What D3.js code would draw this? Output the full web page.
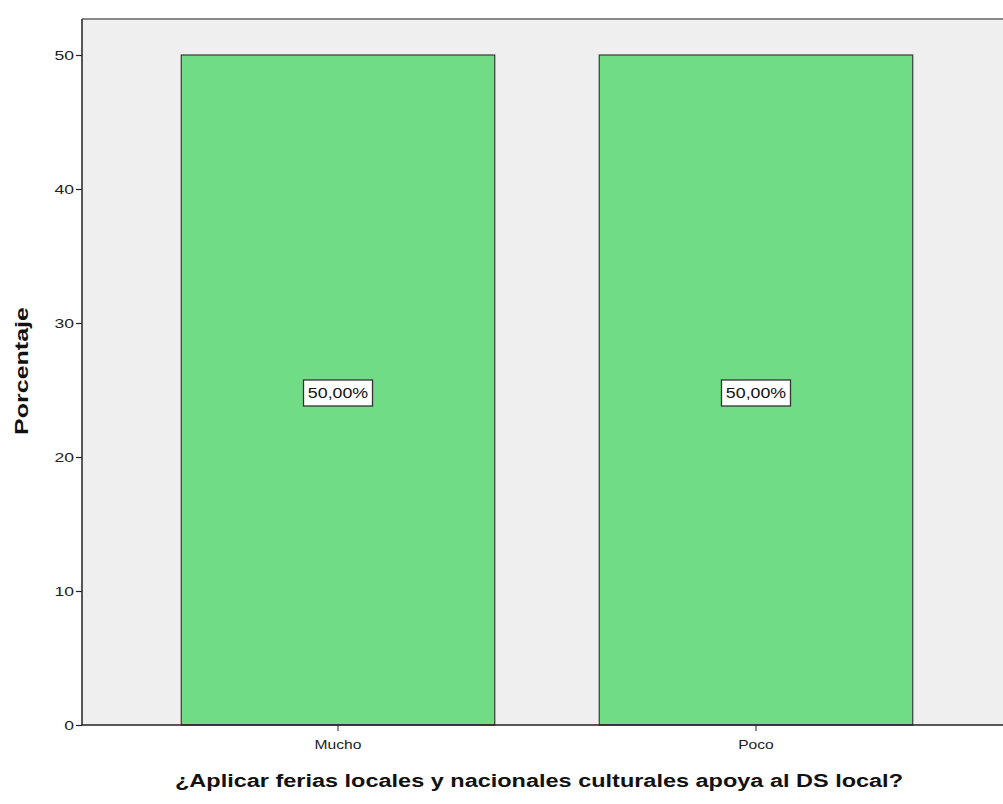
<!DOCTYPE html>
<html><head><meta charset="utf-8">
<script src="https://cdn.jsdelivr.net/npm/d3@7"></script>
<style>body{margin:0;background:#fff;}svg{display:block;}</style>
</head><body>
<svg id="c" width="1003" height="804"></svg>
<script>
const categories = ["Mucho", "Poco"];
const values = [50, 50];
const valueLabels = ["50,00%", "50,00%"];
const yTicks = [0, 10, 20, 30, 40, 50];
const yTitle = "Porcentaje";
const xTitle = "¿Aplicar ferias locales y nacionales culturales apoya al DS local?";

const FONT = "Arial, 'Liberation Sans', sans-serif";
function widen(sel, f) {
  sel.each(function () {
    const w = this.getComputedTextLength();
    d3.select(this).attr("textLength", w * f).attr("lengthAdjust", "spacingAndGlyphs");
  });
}

const svg = d3.select("#c");
const pLeft = 82, pTop = 19, pRight = 1012, pBottom = 725;
const x = d3.scaleBand().domain(categories).range([pLeft, pRight]).paddingInner(0.25).paddingOuter(0.2375);
const y = d3.scaleLinear().domain([0, 50]).range([pBottom, 55]);

svg.append("rect").attr("x", pLeft).attr("y", pTop).attr("width", 1003 - pLeft).attr("height", pBottom - pTop).attr("fill", "#efefef");
svg.append("line").attr("x1", pLeft).attr("x2", 1003).attr("y1", pTop).attr("y2", pTop).attr("stroke", "#888").attr("stroke-width", 2);

svg.selectAll("rect.bar").data(values).enter().append("rect").attr("class", "bar")
  .attr("x", (d, i) => x(categories[i]))
  .attr("y", d => y(d))
  .attr("width", x.bandwidth())
  .attr("height", d => y(0) - y(d))
  .attr("fill", "#70dc85").attr("stroke", "#3a3a3a").attr("stroke-width", 1.2);

const yAxis = svg.append("g").attr("transform", `translate(${pLeft},0)`)
  .call(d3.axisLeft(y).tickValues(yTicks).tickSize(6).tickPadding(2).tickFormat(d3.format("d")));
yAxis.select(".domain").attr("stroke", "#222").attr("stroke-width", 1.5).attr("d", `M-0,${pTop}V${pBottom}`);
yAxis.selectAll(".tick line").attr("stroke", "#222").attr("stroke-width", 1.2);
yAxis.selectAll(".tick text").attr("font-family", FONT).attr("font-size", 13).attr("fill", "#222").call(widen, 1.35);

const xAxis = svg.append("g").attr("transform", `translate(0,${pBottom})`)
  .call(d3.axisBottom(x).tickSize(6).tickPadding(9));
xAxis.select(".domain").attr("stroke", "#222").attr("stroke-width", 1.5).attr("d", `M${pLeft},0H1003`);
xAxis.selectAll(".tick line").attr("stroke", "#222");
xAxis.selectAll(".tick text").attr("font-family", FONT).attr("font-size", 12).attr("fill", "#222").call(widen, 1.3);

const lab = svg.selectAll("g.lab").data(values).enter().append("g").attr("class", "lab")
  .attr("transform", (d, i) => `translate(${x(categories[i]) + x.bandwidth() / 2},${y(d / 2)})`);
lab.append("rect").attr("x", -34.5).attr("y", -10).attr("width", 69).attr("height", 26)
  .attr("fill", "#fff").attr("stroke", "#333").attr("stroke-width", 1.3);
lab.append("text").text((d, i) => valueLabels[i]).attr("text-anchor", "middle").attr("y", 8)
  .attr("font-family", FONT).attr("font-size", 14).attr("fill", "#111").call(widen, 1.27);

svg.append("text").text(yTitle).attr("transform", "translate(28,371) rotate(-90)").attr("text-anchor", "middle")
  .attr("font-family", FONT).attr("font-size", 18).attr("font-weight", "bold").attr("fill", "#111")
  .attr("textLength", 128).attr("lengthAdjust", "spacingAndGlyphs");
svg.append("text").text(xTitle).attr("x", 539).attr("y", 787).attr("text-anchor", "middle")
  .attr("font-family", FONT).attr("font-size", 18).attr("font-weight", "bold").attr("fill", "#111")
  .attr("textLength", 728).attr("lengthAdjust", "spacingAndGlyphs");
</script>
</body></html>
